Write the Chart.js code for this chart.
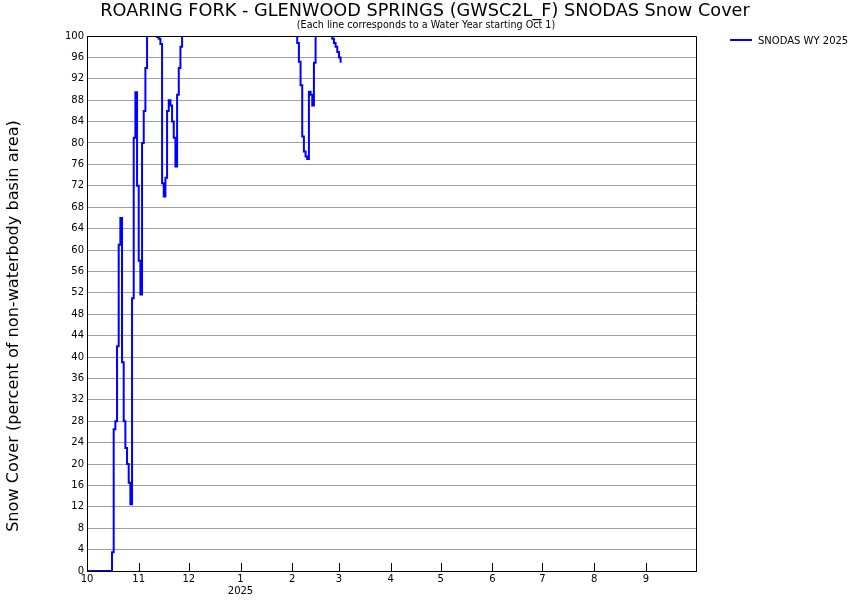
<!DOCTYPE html>
<html>
<head>
<meta charset="utf-8">
<script src="https://cdn.jsdelivr.net/npm/chart.js@4.4.1/dist/chart.umd.min.js"></script>
<style>
html, body { margin: 0; padding: 0; background: #fff; }
</style>
</head>
<body>
<canvas id="grafica" width="850" height="600"></canvas>
<script>
const titulo = "ROARING FORK - GLENWOOD SPRINGS (GWSC2L_F) SNODAS Snow Cover";
const subtitulo = "(Each line corresponds to a Water Year starting Oct 1)";
const tituloY = "Snow Cover (percent of non-waterbody basin area)";
const nombreSerie = "SNODAS WY 2025";

// dias desde el 1 de octubre en que empieza cada mes
const diasMes = [0, 31, 61, 92, 123, 151, 182, 212, 243, 273, 304, 335, 365];
const etiquetasMes = ["10", "11", "12", "1", "2", "3", "4", "5", "6", "7", "8", "9", ""];
const etiquetaAnio = "2025";
const ticksY = [0, 4, 8, 12, 16, 20, 24, 28, 32, 36, 40, 44, 48, 52, 56, 60, 64, 68, 72, 76, 80, 84, 88, 92, 96, 100];

// cobertura diaria (%) desde el 1 de octubre de 2024
const coberturaWY2025 = [
    0, 0, 0, 0, 0, 0, 0, 0, 0, 0,
    0, 0, 0, 0, 0, 3.5, 26.5, 28, 42, 61,
    66, 39, 28, 23, 20, 16.5, 12.5, 51, 81, 89.5,
    72, 58, 51.7, 80, 86, 94, 100, 100, 100, 100,
    100, 100, 99.8, 99.5, 98.5, 72.5, 70, 73.5, 86, 88,
    87, 84, 81, 75.6, 89, 94, 98, 100, 100, 100,
    100, 100, 100, 100, 100, 100, 100, 100, 100, 100,
    100, 100, 100, 100, 100, 100, 100, 100, 100, 100,
    100, 100, 100, 100, 100, 100, 100, 100, 100, 100,
    100, 100, 100, 100, 100, 100, 100, 100, 100, 100,
    100, 100, 100, 100, 100, 100, 100, 100, 100, 100,
    100, 100, 100, 100, 100, 100, 100, 100, 100, 100,
    100, 100, 100, 100, 100, 100, 98.7, 95.2, 90.8, 81.2,
    78.4, 77.5, 77, 89.6, 89, 87, 95, 100, 100, 100,
    100, 100, 100, 100, 100, 100, 100, 99.5, 98.7, 98,
    97, 96, 95
];

const puntos = coberturaWY2025.map((v, i) => ({ x: i, y: v }));

const fuente = "DejaVu Sans";

const extras = {
    id: "extras",
    afterDraw(chart) {
        const ctx = chart.ctx;
        const area = chart.chartArea;
        const escalaX = chart.scales.x;
        ctx.save();
        // borde superior y derecho
        ctx.strokeStyle = "#000";
        ctx.lineWidth = 1;
        ctx.beginPath();
        ctx.moveTo(area.left, area.top + 0.5);
        ctx.lineTo(area.right + 0.5, area.top + 0.5);
        ctx.lineTo(area.right + 0.5, area.bottom);
        ctx.stroke();
        // marcas de mes hacia adentro
        ctx.beginPath();
        diasMes.forEach(d => {
            const x = Math.round(escalaX.getPixelForValue(d)) + 0.5;
            ctx.moveTo(x, area.bottom);
            ctx.lineTo(x, area.bottom - 8);
        });
        ctx.stroke();
        // titulos
        ctx.fillStyle = "#000";
        ctx.textAlign = "center";
        ctx.textBaseline = "middle";
        ctx.font = "17.7px '" + fuente + "'";
        ctx.fillText(titulo, 425, 11);
        ctx.font = "9.6px '" + fuente + "'";
        ctx.fillText(subtitulo, 426, 25);
        ctx.save();
        ctx.translate(14, 326);
        ctx.rotate(-Math.PI / 2);
        ctx.font = "16.1px '" + fuente + "'";
        ctx.fillText(tituloY, 0, 0);
        ctx.restore();
        // leyenda
        ctx.strokeStyle = "#0000ff";
        ctx.lineWidth = 2;
        ctx.beginPath();
        ctx.moveTo(730, 40);
        ctx.lineTo(752, 40);
        ctx.stroke();
        ctx.textAlign = "left";
        ctx.font = "10px '" + fuente + "'";
        ctx.fillText(nombreSerie, 758, 41);
        ctx.restore();
    }
};

new Chart(document.getElementById("grafica"), {
    type: "line",
    data: {
        datasets: [{
            label: nombreSerie,
            data: puntos,
            borderColor: "#0000ff",
            borderWidth: 2,
            pointRadius: 0,
            stepped: true,
            fill: false
        }]
    },
    options: {
        responsive: false,
        animation: false,
        devicePixelRatio: 1,
        layout: { padding: { top: 36, right: 154, left: 0, bottom: 0 } },
        plugins: {
            legend: { display: false },
            title: { display: false },
            tooltip: { enabled: false }
        },
        scales: {
            x: {
                type: "linear",
                min: 0,
                max: 365,
                afterBuildTicks: s => { s.ticks = diasMes.map(v => ({ value: v })); },
                afterFit: s => { s.height = 29; },
                grid: { display: false, drawTicks: false },
                border: { display: true, color: "#000", width: 1 },
                ticks: {
                    autoSkip: false,
                    maxRotation: 0,
                    padding: 2,
                    color: "#000",
                    font: { family: fuente, size: 10 },
                    callback: v => {
                        const i = diasMes.indexOf(v);
                        return i === 3 ? [etiquetasMes[i], etiquetaAnio] : etiquetasMes[i];
                    }
                }
            },
            y: {
                min: 0,
                max: 100,
                afterBuildTicks: s => { s.ticks = ticksY.map(v => ({ value: v })); },
                afterFit: s => { s.width = 87; },
                grid: { color: "#a0a0a0", drawTicks: false },
                border: { display: true, color: "#000", width: 1 },
                ticks: {
                    autoSkip: false,
                    padding: 3,
                    color: "#000",
                    font: { family: fuente, size: 10 }
                }
            }
        }
    },
    plugins: [extras]
});
</script>
</body>
</html>
